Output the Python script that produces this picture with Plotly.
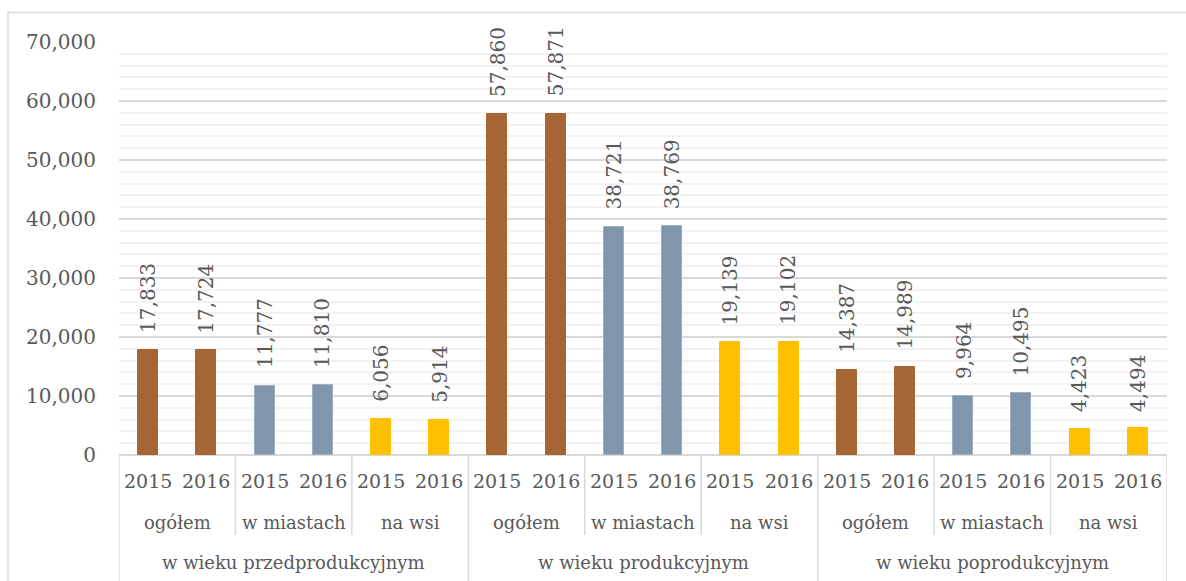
import plotly.graph_objects as go

groups = ["w wieku przedprodukcyjnym", "w wieku produkcyjnym", "w wieku poprodukcyjnym"]
subgroups = ["ogółem", "w miastach", "na wsi"]
years = ["2015", "2016"]

# values ordered: group1 (2015, 2016), group2 (2015, 2016), group3 (2015, 2016)
ogolem = [17833, 17724, 57860, 57871, 14387, 14989]
w_miastach = [11777, 11810, 38721, 38769, 9964, 10495]
na_wsi = [6056, 5914, 19139, 19102, 4423, 4494]

series = [ogolem, w_miastach, na_wsi]
colors = ["#A66535", "#7F96AC", "#FFC000"]
line_colors = ["#A66535", "#9DB0C2", "#FFC000"]

FONT = "DejaVu Serif"
TXT = "#595959"
FS_NUM = 20
FS_YEAR = 19
FS_TXT = 18

n_g, n_s, n_y = len(groups), len(subgroups), len(years)
total = n_g * n_s * n_y

fig = go.Figure()
annotations = []
for s, (vals, col, lc) in enumerate(zip(series, colors, line_colors)):
    xs, ys = [], []
    for g in range(n_g):
        for y in range(n_y):
            idx = g * n_s * n_y + s * n_y + y
            xs.append(idx)
            ys.append(vals[g * n_y + y])
    fig.add_trace(go.Bar(x=xs, y=ys, width=0.345, marker=dict(color=col, line=dict(color=lc, width=1)),
                         name=subgroups[s], showlegend=False, hoverinfo="y"))
    for xv, yv in zip(xs, ys):
        annotations.append(dict(x=xv, y=yv, xref="x", yref="y", text=f"{yv:,}", textangle=-90,
                                showarrow=False, yanchor="bottom", xanchor="center", yshift=15,
                                font=dict(family=FONT, size=FS_NUM, color=TXT)))

plot_h = 413.0
def py(px):
    return -(px) / plot_h

# category labels
for g in range(n_g):
    for s in range(n_s):
        for y in range(n_y):
            idx = g * n_s * n_y + s * n_y + y
            annotations.append(dict(x=idx, y=py(26), xref="x", yref="paper", text=years[y], showarrow=False,
                                    yanchor="middle", font=dict(family=FONT, size=FS_YEAR, color=TXT)))
        cx = g * n_s * n_y + s * n_y + (n_y - 1) / 2
        annotations.append(dict(x=cx, y=py(67), xref="x", yref="paper", text=subgroups[s], showarrow=False,
                                yanchor="middle", font=dict(family=FONT, size=FS_TXT, color=TXT)))
    gx = g * n_s * n_y + (n_s * n_y - 1) / 2
    annotations.append(dict(x=gx, y=py(107), xref="x", yref="paper", text=groups[g], showarrow=False,
                            yanchor="middle", font=dict(family=FONT, size=FS_TXT, color=TXT)))

shapes = []
# separators
for k in range(0, total + 1, n_y):
    xpos = k - 0.5
    if k % (n_s * n_y) == 0:
        y1 = py(140)
    else:
        y1 = py(80)
    shapes.append(dict(type="line", xref="x", yref="paper", x0=xpos, x1=xpos, y0=0, y1=y1,
                       line=dict(color="#D9D9D9", width=1.5)))
# outer border (clipped at right/bottom)
shapes.append(dict(type="rect", xref="paper", yref="paper", x0=(8 - 119) / 1048, x1=1.2,
                   y0=py(200), y1=(455 - 12.5) / plot_h, line=dict(color="#D9D9D9", width=1.5),
                   layer="below"))

fig.update_layout(
    width=1186, height=581,
    margin=dict(l=119, r=19, t=42, b=126),
    paper_bgcolor="white", plot_bgcolor="white",
    bargap=0, barmode="overlay",
    annotations=annotations, shapes=shapes,
    font=dict(family=FONT, size=FS_NUM, color=TXT),
    xaxis=dict(range=[-0.5, total - 0.5], showticklabels=False, showgrid=False, zeroline=False,
               showline=False, ticks=""),
    yaxis=dict(range=[0, 70000], dtick=10000, tickformat=",", showgrid=True, gridcolor="#D9D9D9",
               gridwidth=1.5, zeroline=True, zerolinecolor="#D9D9D9", zerolinewidth=1.5,
               showline=False, ticks="", ticklabelstandoff=22,
               tickfont=dict(family=FONT, size=FS_NUM, color=TXT),
               minor=dict(dtick=2000, showgrid=True, gridcolor="#F2F2F2", gridwidth=1.5)),
)

fig.write_html("out.html", config={"displayModeBar": False},
               post_script="document.body.style.margin='0';document.body.style.overflow='hidden';")
